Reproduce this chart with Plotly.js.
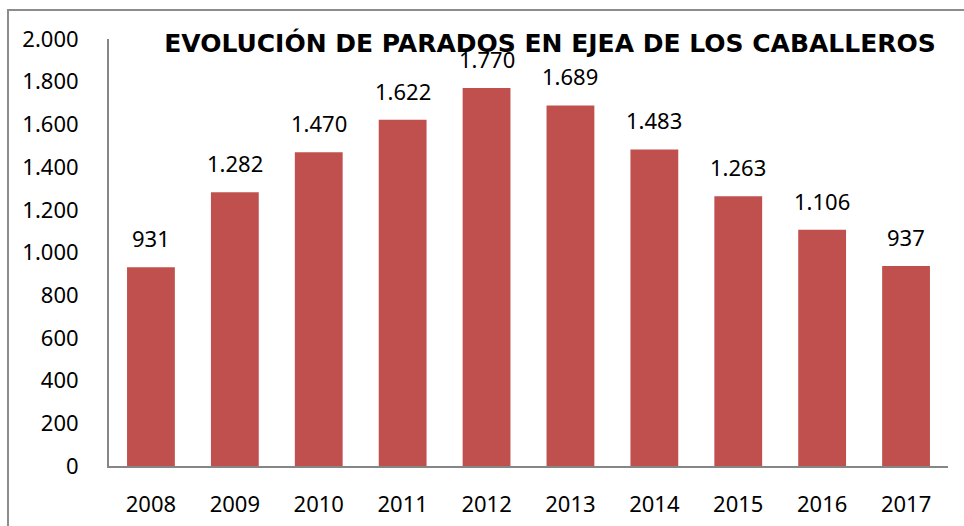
<!DOCTYPE html>
<html><head><meta charset="utf-8">
<script src="https://cdn.plot.ly/plotly-3.0.1.min.js"></script>
<style>
html,body{margin:0;padding:0;background:#fff;}
#wrap{position:relative;width:964px;height:526px;}
#chart{position:absolute;left:0;top:0;width:964px;height:526px;}
#frame{position:absolute;left:7px;top:9px;width:970px;height:530px;border-left:2px solid #8c8c8c;border-top:2px solid #8c8c8c;pointer-events:none;}
</style></head>
<body><div id="wrap"><div id="chart"></div><div id="frame"></div></div>
<script>
const years = [2008,2009,2010,2011,2012,2013,2014,2015,2016,2017];
const parados = [931,1282,1470,1622,1770,1689,1483,1263,1106,937];
const yTicks = [0,200,400,600,800,1000,1200,1400,1600,1800,2000];

function fmt(v){return v.toString().replace(/\B(?=(\d{3})+(?!\d))/g,'.');}

const labelFont = {family:'Noto Sans, Open Sans, sans-serif', size:22, color:'#000'};
const trace = {
  type:'bar', x:years, y:parados,
  marker:{color:'#C0504D'},
  hoverinfo:'x+y'
};
const annotations = years.map((yr,i)=>({
  x:yr, y:parados[i], xref:'x', yref:'y', text:fmt(parados[i]),
  showarrow:false, yanchor:'bottom', yshift:12,
  font:labelFont
}));
const layout = {
  width:964, height:526,
  margin:{l:109, r:16, t:39, b:60},
  paper_bgcolor:'rgba(0,0,0,0)', plot_bgcolor:'#fff',
  bargap:0.43,
  showlegend:false,
  title:{text:'<b>EVOLUCIÓN DE PARADOS EN EJEA DE LOS CABALLEROS</b>', x:550/964, xanchor:'center', y:1-43/526, yanchor:'middle',
    font:{family:'DejaVu Sans, sans-serif', size:25, color:'#000'}},
  xaxis:{tickmode:'array', tickvals:years, ticktext:years.map(String), range:[years[0]-0.5, years[years.length-1]+0.5],
    showline:true, linecolor:'#868686', linewidth:2, showgrid:false, zeroline:false, ticks:'',
    ticklabelstandoff:18, tickfont:labelFont},
  yaxis:{range:[0,2000], tickmode:'array', tickvals:yTicks, ticktext:yTicks.map(fmt), showline:true, linecolor:'#868686', linewidth:2,
    showgrid:false, zeroline:false, ticks:'', ticklabelstandoff:24, tickfont:labelFont},
  annotations:annotations
};
Plotly.newPlot('chart',[trace],layout,{displayModeBar:false, staticPlot:true});
</script></body></html>
